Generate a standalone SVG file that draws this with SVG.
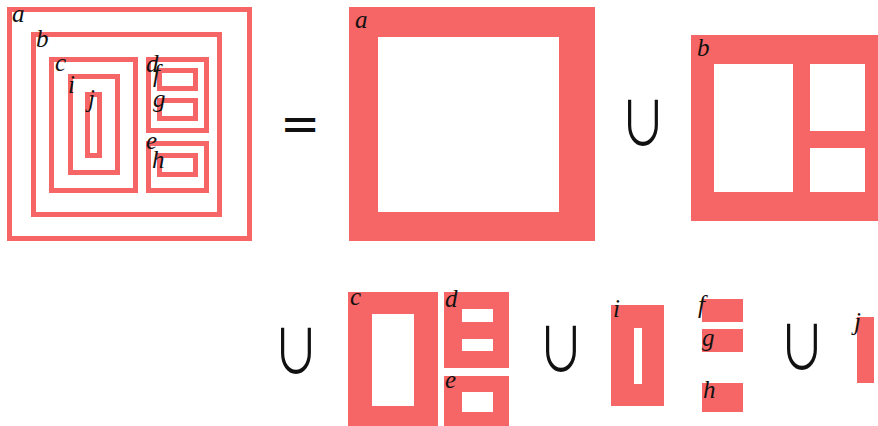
<svg xmlns="http://www.w3.org/2000/svg" width="878" height="426" viewBox="0 0 878 426">
<style>
.o{fill:none;stroke:#f66666;stroke-width:5}
.s{fill:#f66666;fill-rule:evenodd}
.l{font-family:"Liberation Serif","Times New Roman",serif;font-style:italic;font-size:25px;fill:#111}
.op{font-family:"DejaVu Sans",sans-serif;fill:#111}
.u{font-family:"Noto Sans CJK JP","DejaVu Sans",sans-serif;font-size:56px;fill:#111}
</style>
<rect width="878" height="426" fill="#fff"/>
<g id="nested">
<g id="n-a"><rect class="o" x="9.5" y="9.5" width="240" height="229"/><text class="l" x="12" y="22">a</text></g>
<g id="n-b"><rect class="o" x="33.5" y="34.5" width="186" height="180"/><text class="l" x="36" y="47">b</text></g>
<g id="n-c"><rect class="o" x="51.5" y="59.5" width="84" height="131"/><text class="l" x="55" y="71">c</text></g>
<g id="n-i"><rect class="o" x="70.5" y="76.5" width="47" height="96"/><text class="l" x="68" y="93">i</text></g>
<g id="n-j"><rect class="o" x="87.5" y="94.5" width="12" height="61"/><text class="l" x="88" y="107">j</text></g>
<g id="n-d"><rect class="o" x="148.5" y="59.5" width="58" height="71"/><text class="l" x="146" y="72">d</text></g>
<g id="n-f"><rect class="o" x="159.5" y="70.5" width="36" height="18"/><text class="l" x="153" y="82">f</text></g>
<g id="n-g"><rect class="o" x="159.5" y="100.5" width="36" height="18"/><text class="l" x="153" y="107">g</text></g>
<g id="n-e"><rect class="o" x="148.5" y="143.5" width="58" height="47"/><text class="l" x="146" y="149">e</text></g>
<g id="n-h"><rect class="o" x="159.5" y="155.5" width="36" height="19"/><text class="l" x="152" y="168">h</text></g>
</g>
<g id="ops">
<text class="op" x="300" y="140" font-size="48" text-anchor="middle">=</text>
<text class="u" text-anchor="middle" transform="translate(643,146) scale(0.83,1.1)">∪</text>
<text class="u" text-anchor="middle" transform="translate(296,374) scale(0.83,1.1)">∪</text>
<text class="u" text-anchor="middle" transform="translate(561,372) scale(0.83,1.1)">∪</text>
<text class="u" text-anchor="middle" transform="translate(802,370) scale(0.83,1.1)">∪</text>
</g>
<g id="A"><path class="s" d="M349 7H595V241H349Z M378 37V212H559V37Z"/><text class="l" x="355" y="28">a</text></g>
<g id="B"><path class="s" d="M691 35H878V221H691Z M714 64V192H793V64Z M810 64V131H865V64Z M810 148V192H865V148Z"/><text class="l" x="697" y="56">b</text></g>
<g id="C"><path class="s" d="M348 292H438V426H348Z M372 314V406H414V314Z"/><text class="l" x="350" y="305">c</text></g>
<g id="D"><path class="s" d="M444 292H509V368H444Z M462 309V322H493V309Z M462 339V351H493V339Z"/><text class="l" x="445" y="307">d</text></g>
<g id="E"><path class="s" d="M444 376H509V426H444Z M462 392V412H493V392Z"/><text class="l" x="445" y="388">e</text></g>
<g id="I"><path class="s" d="M611 305H664V406H611Z M634 328V384H642V328Z"/><text class="l" x="613" y="317">i</text></g>
<g id="F"><rect class="s" x="702" y="299" width="41" height="23"/><text class="l" x="698" y="313">f</text></g>
<g id="G"><rect class="s" x="702" y="329" width="41" height="23"/><text class="l" x="702" y="346">g</text></g>
<g id="H"><rect class="s" x="702" y="383" width="41" height="29"/><text class="l" x="703" y="398">h</text></g>
<g id="J"><rect class="s" x="857" y="317" width="17" height="66"/><text class="l" x="854" y="330">j</text></g>
</svg>
